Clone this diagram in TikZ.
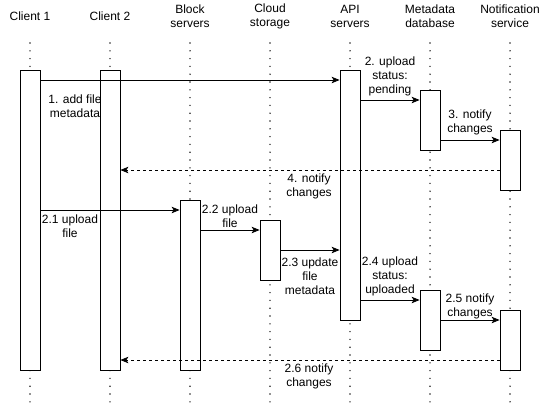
\documentclass[tikz,border=0pt]{standalone}
\usepackage{fontspec}
\setmainfont{Liberation Sans}
\usetikzlibrary{arrows.meta}
\tikzset{>={Stealth[length=8pt,width=6.5pt,inset=2pt]}}
\tikzset{
  act/.style={draw, fill=white, minimum width=20pt, inner sep=0pt, anchor=north, line width=0.8pt},
  life/.style={line width=1.6pt, line cap=round, dash pattern=on 0pt off 7.8pt, black!85},
  msg/.style={->, line width=0.8pt},
  reply/.style={->, line width=0.8pt, dash pattern=on 3pt off 3pt},
  lbl/.style={align=center, font=\fontsize{12}{14}\selectfont, inner sep=0pt},
}

\begin{document}
\begin{tikzpicture}[x=1pt, y=-1pt]
      \useasboundingbox (0,0) rectangle (540,402);
      % participants and their lifelines
      \foreach \x/\who/\txt in {30/c1/{Client 1}, 110/c2/{Client 2}, 190/block/{Block\\servers},
          270/cloud/{Cloud\\storage}, 350/api/{API\\servers}, 430/meta/{Metadata\\database},
          510/notif/{Notification\\service}} {
        \node[lbl] (h\who) at (\x,16) {\txt};
        \draw[life] (\x,43) -- (\x,402);
      }
      % activation boxes
      \node[act, minimum height=300pt] (c1box) at (30,70) {};
      \node[act, minimum height=300pt] (c2box) at (110,70) {};
      \node[act, minimum height=170pt] (blockbox) at (190,200) {};
      \node[act, minimum height=60pt] (cloudbox) at (270,220) {};
      \node[act, minimum height=250pt] (apibox) at (350,70) {};
      \node[act, minimum height=60pt] (metabox1) at (430,90) {};
      \node[act, minimum height=60pt] (metabox2) at (430,290) {};
      \node[act, minimum height=60pt] (notifbox1) at (510,130) {};
      \node[act, minimum height=60pt] (notifbox2) at (510,310) {};
      % messages
      \draw[msg] (c1box.east |- 0,80) -- (apibox.west |- 0,80);
      \node[lbl] (l1) at (75,106) {1. add file\\metadata};
      \draw[msg] (apibox.east |- 0,100) -- (metabox1.west |- 0,100);
      \node[lbl] (l2) at (390,76) {2. upload\\status:\\pending};
      \draw[msg] (metabox1.east |- 0,140) -- (notifbox1.west |- 0,140);
      \node[lbl] (l3) at (470,122) {3. notify\\changes};
      \draw[reply] (notifbox1.west |- 0,170) -- (c2box.east |- 0,170);
      \node[lbl] (l4) at (309,186) {4. notify\\changes};
      \draw[msg] (c1box.east |- 0,210) -- (blockbox.west |- 0,210);
      \node[lbl] (l21) at (70,226) {2.1 upload\\file};
      \draw[msg] (blockbox.east |- 0,230) -- (cloudbox.west |- 0,230);
      \node[lbl] (l22) at (230,216) {2.2 upload\\file};
      \draw[msg] (cloudbox.east |- 0,250) -- (apibox.west |- 0,250);
      \node[lbl] (l23) at (310,276) {2.3 update\\file\\metadata};
      \draw[msg] (apibox.east |- 0,300) -- (metabox2.west |- 0,300);
      \node[lbl] (l24) at (390,276) {2.4 upload\\status:\\uploaded};
      \draw[msg] (metabox2.east |- 0,320) -- (notifbox2.west |- 0,320);
      \node[lbl] (l25) at (470,306) {2.5 notify\\changes};
      \draw[reply] (notifbox2.west |- 0,360) -- (c2box.east |- 0,360);
      \node[lbl] (l26) at (309,376) {2.6 notify\\changes};
\end{tikzpicture}
\end{document}
